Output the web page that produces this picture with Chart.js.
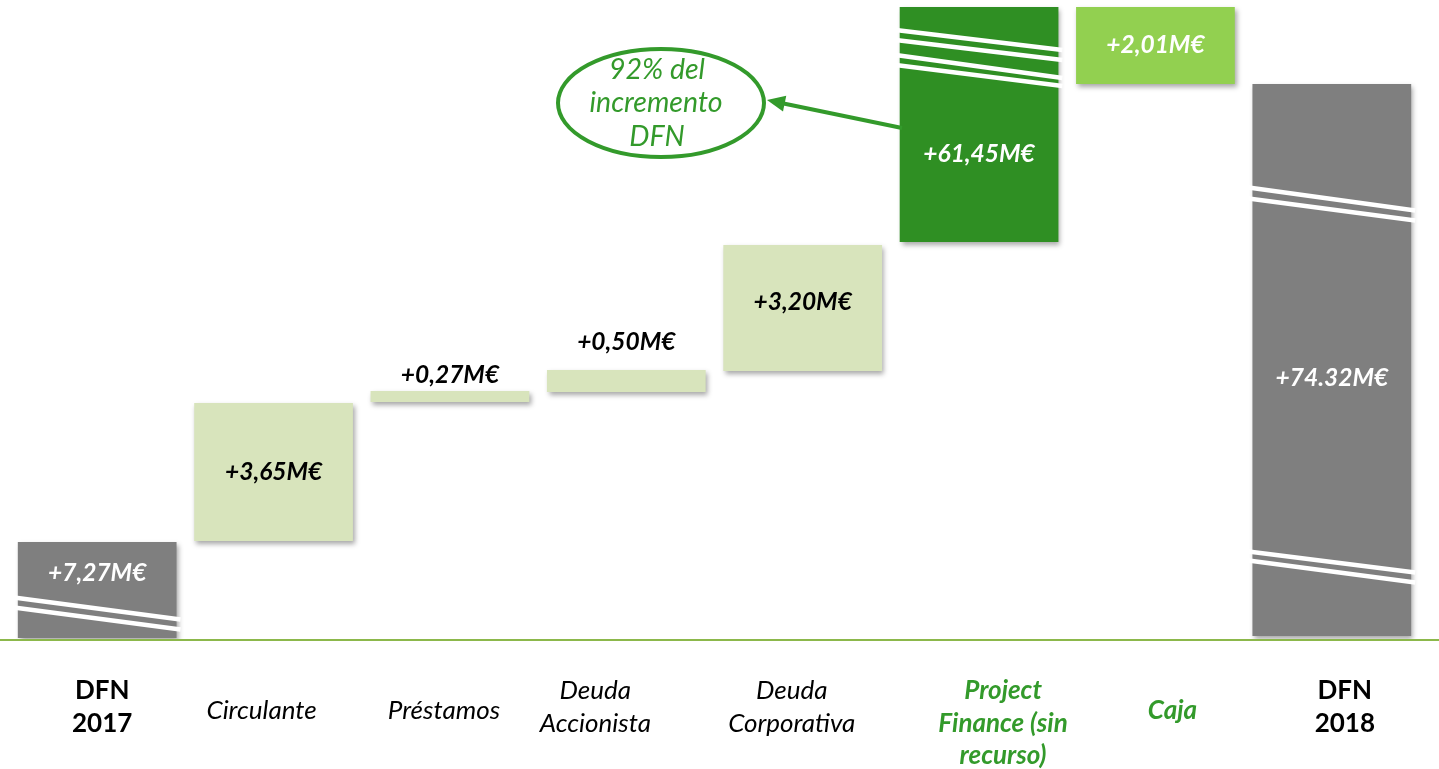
<!DOCTYPE html>
<html>
<head>
<meta charset="utf-8">
<script src="https://cdn.jsdelivr.net/npm/chart.js@4/dist/chart.umd.min.js"></script>
<style>
html,body{margin:0;padding:0;background:#fff;}
#wrap{width:1439px;height:769px;position:relative;}
</style>
</head>
<body>
<div id="wrap"><canvas id="c" width="1439" height="769"></canvas></div>
<script>
// Categories (multi-line labels)
const categories = [['DFN','2017'], ['Circulante'], ['Préstamos'], ['Deuda','Accionista'], ['Deuda','Corporativa'], ['Project','Finance (sin','recurso)'], ['Caja'], ['DFN','2018']];
// Floating bar extents in the chart's (broken, non-proportional) visual units
const barStart = [2, 99, 238, 248, 269, 398, 556, 4];
const barEnd   = [98, 237, 249, 270, 395, 633, 633, 556];
// Value labels as printed
const valueLabels = ['+7,27M€', '+3,65M€', '+0,27M€', '+0,50M€', '+3,20M€', '+61,45M€', '+2,01M€', '+74.32M€'];
// Where each value label sits (same visual units)
const labelLevel = [67, 168, 265, 298, 338, 486, 595, 262];
// Axis-break marks: [leftLevel, rightLevel] pairs per bar
const breakMarks = [
  [[42,21],[32,11]], [], [], [], [],
  [[609.5,590.5],[599.5,580.5],[584.5,562.5],[574.5,554.5]],
  [],
  [[452,430],[441,420],[88,68],[79,58]]
];
const barColors = ['#7f7f7f','#d8e4bc','#d8e4bc','#d8e4bc','#d8e4bc','#2f8f23','#92d050','#7f7f7f'];
const valueColors = ['#fff','#000','#000','#000','#000','#fff','#fff','#fff'];
const catStyles = ['bold','italic','italic','italic','italic','bold italic','bold italic','bold'];
const catColors = ['#000','#000','#000','#000','#000','#339a2b','#339a2b','#000'];
// horizontal nudge of category text relative to bar centre (layout)
const catShift = [5, -12, -6, -31, -11, 24, 17, 13];

const FONT = 'Lato, "Open Sans", sans-serif';

const decor = {
  id: 'decor',
  beforeDatasetsDraw(chart) {
    const ctx = chart.ctx;
    ctx.save();
    ctx.shadowColor = 'rgba(0,0,0,0.35)';
    ctx.shadowBlur = 5;
    ctx.shadowOffsetX = 2;
    ctx.shadowOffsetY = 3;
  },
  afterDatasetsDraw(chart) {
    const ctx = chart.ctx;
    ctx.restore();
    const meta = chart.getDatasetMeta(0);
    const y = chart.scales.y;
    // break marks
    ctx.save();
    ctx.strokeStyle = '#fff';
    ctx.lineWidth = 4.5;
    meta.data.forEach((bar, i) => {
      const half = bar.width / 2;
      breakMarks[i].forEach(([l, r]) => {
        const yl = y.getPixelForValue(l), yr = y.getPixelForValue(r);
        const x0 = bar.x - half - 4, x1 = bar.x + half + 4;
        const k = (yr - yl) / (x1 - x0 - 8);
        ctx.beginPath();
        ctx.moveTo(x0, yl - 4 * k);
        ctx.lineTo(x1, yr + 4 * k);
        ctx.stroke();
      });
    });
    ctx.restore();
    // value labels
    ctx.save();
    ctx.font = 'italic bold 24.5px ' + FONT;
    ctx.textAlign = 'center';
    ctx.textBaseline = 'middle';
    meta.data.forEach((bar, i) => {
      ctx.fillStyle = valueColors[i];
      ctx.fillText(valueLabels[i], bar.x, y.getPixelForValue(labelLevel[i]));
    });
    ctx.restore();
  },
  afterDraw(chart) {
    const ctx = chart.ctx;
    const x = chart.scales.x;
    const y = chart.scales.y;
    // baseline across full width
    ctx.save();
    ctx.strokeStyle = '#8cb84b';
    ctx.lineWidth = 2;
    const by = y.getPixelForValue(0);
    ctx.beginPath();
    ctx.moveTo(0, by);
    ctx.lineTo(chart.width, by);
    ctx.stroke();
    ctx.restore();
    // category labels
    ctx.save();
    ctx.textAlign = 'center';
    ctx.textBaseline = 'middle';
    categories.forEach((lines, i) => {
      const cx = x.getPixelForValue(i) + catShift[i];
      ctx.font = catStyles[i] + ' 26px ' + FONT;
      ctx.fillStyle = catColors[i];
      const startY = lines.length === 1 ? by + 71 : by + 51;
      lines.forEach((t, j) => ctx.fillText(t, cx, startY + j * 32.5));
    });
    ctx.restore();
    // annotation: ellipse + arrow
    ctx.save();
    const green = '#339a2b';
    ctx.strokeStyle = green;
    ctx.fillStyle = '#fff';
    ctx.lineWidth = 4;
    ctx.beginPath();
    ctx.ellipse(661, 103, 103, 54, 0, 0, Math.PI * 2);
    ctx.fill();
    ctx.stroke();
    ctx.fillStyle = green;
    ctx.font = 'italic 28.5px ' + FONT;
    ctx.textAlign = 'center';
    ctx.textBaseline = 'middle';
    ctx.fillText('92% del', 657, 70);
    ctx.fillText('incremento', 656, 103);
    ctx.fillText('DFN', 657, 137);
    // arrow
    const ax0 = 902, ay0 = 128, ax1 = 767, ay1 = 100;
    const ang = Math.atan2(ay1 - ay0, ax1 - ax0);
    ctx.lineWidth = 4;
    ctx.beginPath();
    ctx.moveTo(ax0, ay0);
    ctx.lineTo(ax1 - 12 * Math.cos(ang), ay1 - 12 * Math.sin(ang));
    ctx.stroke();
    ctx.beginPath();
    ctx.moveTo(ax1, ay1);
    ctx.lineTo(ax1 - 18 * Math.cos(ang) + 8 * Math.sin(ang), ay1 - 18 * Math.sin(ang) - 8 * Math.cos(ang));
    ctx.lineTo(ax1 - 18 * Math.cos(ang) - 8 * Math.sin(ang), ay1 - 18 * Math.sin(ang) + 8 * Math.cos(ang));
    ctx.closePath();
    ctx.fill();
    ctx.restore();
  }
};

new Chart(document.getElementById('c'), {
  type: 'bar',
  data: {
    labels: categories.map(l => l.join(' ')),
    datasets: [{
      data: barStart.map((s, i) => [s, barEnd[i]]),
      backgroundColor: barColors,
      borderWidth: 0,
      categoryPercentage: 1,
      barPercentage: 0.9
    }]
  },
  options: {
    responsive: false,
    animation: false,
    layout: { padding: { left: 9, right: 19, top: 0, bottom: 129 } },
    plugins: { legend: { display: false }, tooltip: { enabled: false } },
    scales: {
      x: { display: false },
      y: { display: false, min: 0, max: 640 }
    }
  },
  plugins: [decor]
});
</script>
</body>
</html>
